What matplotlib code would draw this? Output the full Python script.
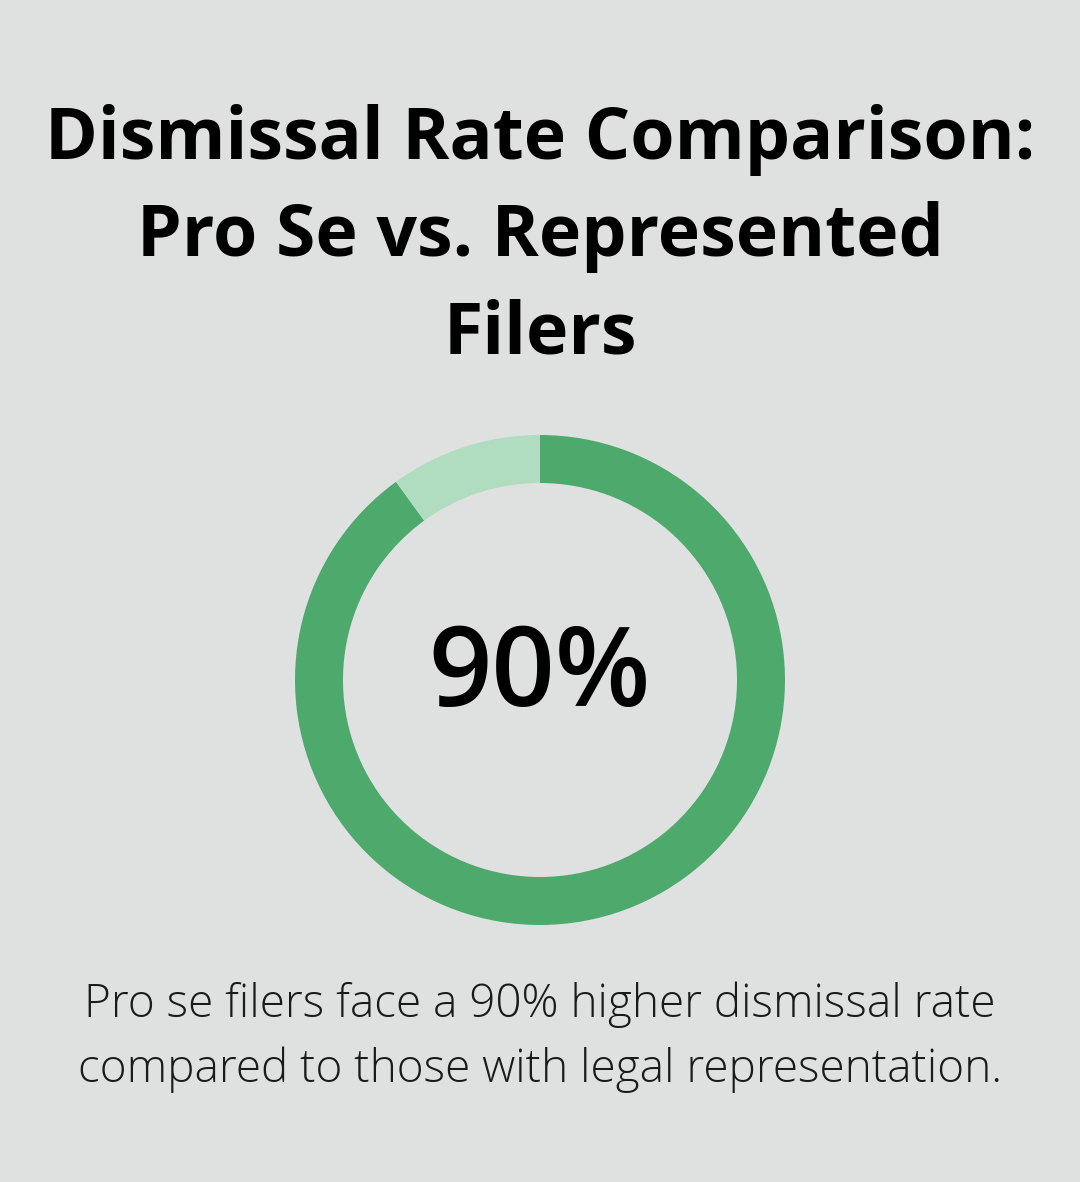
import matplotlib
matplotlib.use("Agg")
import matplotlib.pyplot as plt

labels = ["Pro se dismissed", "Remainder"]
values = [90, 10]
colors = ["#4ea96d", "#b0dcc0"]
title_lines = ["Dismissal Rate Comparison:", "Pro Se vs. Represented", "Filers"]
center_label = "90%"
caption = ["Pro se filers face a 90% higher dismissal rate",
           "compared to those with legal representation."]

bg = "#dfe1e0"
W, H = 1080, 1182
fig = plt.figure(figsize=(W/100, H/100), dpi=100, facecolor=bg)

ax = fig.add_axes([0, 0, 1, 1])
ax.set_xlim(0, W); ax.set_ylim(H, 0); ax.axis("off")
for y, t in zip([140, 237, 335], title_lines):
    ax.text(540, y, t, ha="center", va="center", fontsize=51.5, fontweight="bold",
            family="Open Sans", color="#000000")
for y, t in zip([1005, 1070], caption):
    ax.text(540, y, t, ha="center", va="center", fontsize=33, fontweight="light",
            family="Open Sans", color="#1a1a1a")

R = 245
pax = fig.add_axes([(540-R)/W, (H-680-R)/H, 2*R/W, 2*R/H])
pax.pie(values, colors=colors, startangle=90, counterclock=False, radius=1,
        wedgeprops=dict(width=48/R, linewidth=0))
pax.set_xlim(-1, 1); pax.set_ylim(-1, 1)
pax.set_aspect("equal"); pax.axis("off")
pax.text(0, 0.01, center_label, ha="center", va="center", fontsize=80,
         fontweight="semibold", family="Open Sans", color="#000000")

fig.savefig("out.png", dpi=100, facecolor=bg)
